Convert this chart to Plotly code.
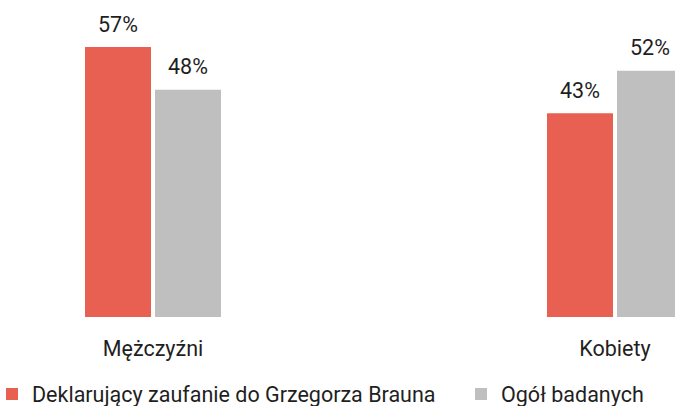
import plotly.graph_objects as go

categories = ["Mężczyźni", "Kobiety"]
braun_trust = [57, 43]
all_respondents = [48, 52]
series_names = ["Deklarujący zaufanie do Grzegorza Brauna", "Ogół badanych"]

RED = "#E86051"
GRAY = "#BFBFBF"
TEXT = "#1f1f1f"
FONT = "Roboto"
FS = 21.5

# geometry in category units (one category = 462 px)
bar_w = 66 / 462
red_off = -68 / 462
gray_off = 2 / 462

xs = list(range(len(categories)))

fig = go.Figure()
fig.add_trace(go.Bar(
    x=xs, y=braun_trust, name=series_names[0], legend="legend",
    marker=dict(color=RED, line=dict(width=0)),
    width=bar_w, offset=red_off, hoverinfo="skip",
))
fig.add_trace(go.Bar(
    x=xs, y=all_respondents, name=series_names[1], legend="legend2",
    marker=dict(color=GRAY, line=dict(width=0)),
    width=bar_w, offset=gray_off, hoverinfo="skip",
))

# value labels above bars
for vals, off in ((braun_trust, red_off), (all_respondents, gray_off)):
    for i, v in zip(xs, vals):
        fig.add_annotation(
            x=i + off + bar_w / 2, y=v, text=f"{v}%",
            showarrow=False, yanchor="middle", yshift=23,
            font=dict(family=FONT, size=FS, color=TEXT),
        )

legend_common = dict(
    orientation="h", xref="paper", yref="paper",
    xanchor="left", y=-77 / 317, yanchor="middle",
    font=dict(family=FONT, size=FS, color=TEXT),
    bgcolor="rgba(0,0,0,0)", borderwidth=0,
    itemclick=False, itemdoubleclick=False,
)

fig.update_layout(
    width=675, height=406,
    margin=dict(l=0, r=0, t=0, b=89, autoexpand=False),
    paper_bgcolor="white", plot_bgcolor="white",
    barmode="overlay",
    font=dict(family=FONT, size=FS, color=TEXT),
    showlegend=True,
    legend=dict(x=-8 / 675, **legend_common),
    legend2=dict(x=461 / 675, **legend_common),
)
fig.update_xaxes(
    range=[-153 / 462, 522 / 462], automargin=False,
    tickvals=xs, ticktext=categories,
    showgrid=False, zeroline=False, showline=False,
    ticks="", ticklabelstandoff=16,
    tickfont=dict(family=FONT, size=FS, color=TEXT),
)
fig.update_yaxes(
    range=[0, 317 / (270 / 57)], automargin=False,
    showgrid=False, zeroline=False, showline=False,
    showticklabels=False, ticks="",
)

# drop the browser's default body margin so the figure sits at the page corner
fig.write_html(
    "out.html",
    config={"displayModeBar": False},
    post_script="document.body.style.margin='0';",
)
